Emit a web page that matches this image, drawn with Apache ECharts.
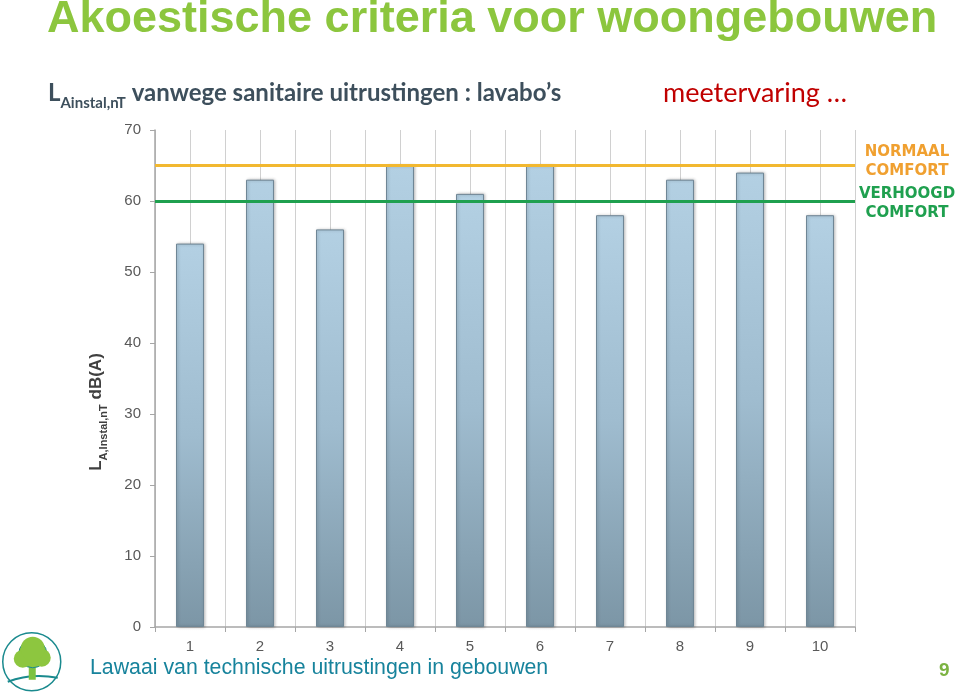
<!DOCTYPE html>
<html><head><meta charset="utf-8">
<script src="https://cdn.jsdelivr.net/npm/echarts@6/dist/echarts.min.js"></script>
<style>html,body{margin:0;padding:0;background:#fff}#c{width:959px;height:694px}</style>
</head><body><div id="c"></div>
<script>
const categories = ['1','2','3','4','5','6','7','8','9','10'];
const values = [54, 63, 56, 65, 61, 65, 58, 63, 64, 58];
const halfSlots = ['a','b','c','d','e','f','g','h','i','j','k','l','m','n','o','p','q','r','s','t'];
const normaalComfort = 65;
const verhoogdComfort = 60;
const yTicks = [0, 10, 20, 30, 40, 50, 60, 70];

const chart = echarts.init(document.getElementById('c'));
chart.setOption({
  backgroundColor: '#fff',
  animation: false,
  grid: { left: 155, right: 104, top: 130, bottom: 67 },
  xAxis: [{
    type: 'category', data: categories,
    axisLine: { show: true, lineStyle: { color: '#a6a6a6', width: 1.5 } },
    axisTick: { show: true, length: 5, lineStyle: { color: '#a6a6a6' } },
    axisLabel: { color: '#595959', fontSize: 15, fontFamily: 'Liberation Sans', margin: 12 },
    splitLine: { show: false }
  }, {
    type: 'category', data: halfSlots, position: 'bottom',
    axisLine: { show: false }, axisTick: { show: false }, axisLabel: { show: false },
    splitLine: { show: true, lineStyle: { color: '#d0d0d0', width: 1 } }
  }],
  yAxis: {
    type: 'value', min: 0, max: 70, interval: 10,
    axisLine: { show: true, lineStyle: { color: '#a6a6a6', width: 1.5 } },
    axisTick: { show: true, length: 5, lineStyle: { color: '#a6a6a6' } },
    axisLabel: { color: '#595959', fontSize: 15, fontFamily: 'Liberation Sans', margin: 14,
      formatter: v => yTicks.includes(v) ? String(v) : '' },
    splitLine: { show: false }
  },
  series: [{
    type: 'bar', data: values, xAxisIndex: 0, barWidth: 28, z: 3,
    itemStyle: {
      color: { type: 'linear', x: 0, y: 0, x2: 0, y2: 1, colorStops: [
        { offset: 0, color: '#b3d0e3' },
        { offset: 0.5, color: '#9fbccf' },
        { offset: 1, color: '#7c96a6' }
      ] },
      borderColor: '#6f8695', borderWidth: 1,
      shadowColor: 'rgba(0,0,0,0.25)', shadowBlur: 3, shadowOffsetX: 1, shadowOffsetY: 0
    },
    markLine: {
      symbol: 'none', silent: true,
      data: [
        { yAxis: normaalComfort, lineStyle: { color: '#f2b830', width: 3, type: 'solid' },
          label: { show: true, position: 'end', distance: 8, offset: [44, -4],
            formatter: 'NORMAAL\nCOMFORT', color: '#f0a030', fontWeight: 'bold',
            fontFamily: 'DejaVu Sans', fontSize: 15, lineHeight: 19, align: 'center' } },
        { yAxis: verhoogdComfort, lineStyle: { color: '#1fa04f', width: 3, type: 'solid' },
          label: { show: true, position: 'end', distance: 8, offset: [44, 3],
            formatter: 'VERHOOGD\nCOMFORT', color: '#1fa04f', fontWeight: 'bold',
            fontFamily: 'DejaVu Sans', fontSize: 15, lineHeight: 19, align: 'center' } }
      ]
    }
  }],
  graphic: [
    { type: 'text', left: 47, top: -3, style: { text: 'Akoestische criteria voor woongebouwen',
      fill: '#8cc63e', font: 'bold 45px "Liberation Sans"' } },
    { type: 'text', left: 48, top: 81, style: {
      text: '{a|L}{s|Ainstal,nT}{a| vanwege sanitaire uitrustingen : lavabo’s}',
      rich: {
        a: { fill: '#3d4f5c', fontSize: 24, fontFamily: 'Lato', fontWeight: 'bold', verticalAlign: 'bottom', lineHeight: 28 },
        s: { fill: '#3d4f5c', fontSize: 15, fontFamily: 'Lato', fontWeight: 'bold', verticalAlign: 'bottom', lineHeight: 21, padding: [0, 0, -6, 0] }
      } } },
    { type: 'text', left: 663, top: 80, style: { text: 'meetervaring …', fill: '#c00000',
      font: '27px "Lato"' } },
    { type: 'text', x: 94, y: 412, rotation: Math.PI / 2, style: {
      text: '{a|L}{s|A,Instal,nT}{a| dB(A)}', align: 'center', verticalAlign: 'middle',
      rich: {
        a: { fill: '#3f3f3f', fontSize: 17, fontFamily: 'Liberation Sans', fontWeight: 'bold', verticalAlign: 'bottom', lineHeight: 22 },
        s: { fill: '#3f3f3f', fontSize: 11, fontFamily: 'Liberation Sans', fontWeight: 'bold', verticalAlign: 'bottom', lineHeight: 14, padding: [0, 0, -4, 0] }
      } } },
    { type: 'text', left: 90, top: 658, style: { text: 'Lawaai van technische uitrustingen in gebouwen',
      fill: '#17839c', font: '21.3px "Liberation Sans"' } },
    { type: 'text', left: 939, top: 661, style: { text: '9', fill: '#7cb342', font: 'bold 19px "Liberation Sans"' } },
    { type: 'group', left: 2, top: 632, children: [
      { type: 'circle', shape: { cx: 31, cy: 30, r: 29 }, style: { fill: '#fff', stroke: '#1a8a8e', lineWidth: 1.5 } },
      { type: 'bezierCurve', shape: { x1: 7, y1: 50, cpx1: 30, cpy1: 41, x2: 57, y2: 46 }, style: { fill: 'none', stroke: '#1a8a8e', lineWidth: 2 } },
      { type: 'rect', shape: { x: 28, y: 28, width: 7, height: 20 }, style: { fill: '#7cc242' } },
      { type: 'circle', shape: { cx: 32, cy: 22, r: 14 }, style: { fill: '#8dc63f', stroke: '#1a8a8e', lineWidth: 1 } },
      { type: 'circle', shape: { cx: 22, cy: 27, r: 9 }, style: { fill: '#8dc63f' } },
      { type: 'circle', shape: { cx: 41, cy: 26, r: 9 }, style: { fill: '#8dc63f' } },
      { type: 'circle', shape: { cx: 32, cy: 17, r: 12 }, style: { fill: '#8dc63f' } }
    ] }
  ]
});
</script></body></html>
